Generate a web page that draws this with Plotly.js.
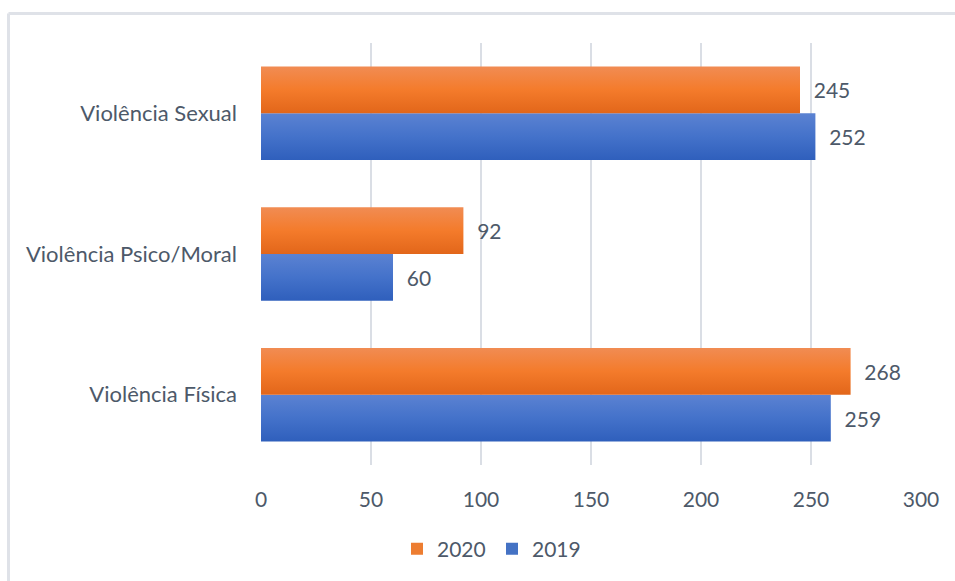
<!DOCTYPE html>
<html>
<head>
<meta charset="utf-8">
<script src="https://cdn.plot.ly/plotly-3.0.1.min.js"></script>
<style>
html,body{margin:0;padding:0;background:#fff;}
#chart{width:955px;height:581px;}
</style>
</head>
<body>
<div id="chart"></div>
<script>
const categories = ["Violência Física", "Violência Psico/Moral", "Violência Sexual"];
const values2019 = [259, 60, 252];
const values2020 = [268, 92, 245];
const xTicks = [0, 50, 100, 150, 200, 250, 300];

const textColor = "#4d5969";
const fontFam = "Lato, 'Open Sans', sans-serif";

const traces = [
  {
    type: "bar", orientation: "h", name: "2019",
    y: categories, x: values2019,
    marker: {color: "#4472C4"},
    text: values2019.map(v => "\u00a0\u00a0" + v),
    textposition: "outside", cliponaxis: false, constraintext: "none",
    textfont: {family: fontFam, size: 21, color: textColor},
    hoverinfo: "x+name"
  },
  {
    type: "bar", orientation: "h", name: "2020",
    y: categories, x: values2020,
    marker: {color: "#ED7D31"},
    text: values2020.map(v => "\u00a0\u00a0" + v),
    textposition: "outside", cliponaxis: false, constraintext: "none",
    textfont: {family: fontFam, size: 21, color: textColor},
    hoverinfo: "x+name"
  }
];

const L = 261, R = 34, T = 43, B = 116;
const pw = 955 - L - R, ph = 581 - T - B;

const layout = {
  width: 955, height: 581,
  margin: {l: L, r: R, t: T, b: B, pad: 0},
  paper_bgcolor: "#ffffff", plot_bgcolor: "#ffffff",
  font: {family: fontFam, size: 21, color: textColor},
  barmode: "group",
  bargap: 0.335, bargroupgap: 0,
  showlegend: true,
  legend: {
    orientation: "h", traceorder: "reversed",
    x: (492 - L) / pw, xanchor: "center",
    y: (465 - 549) / ph, yanchor: "middle",
    font: {family: fontFam, size: 21, color: textColor},
    itemwidth: 30,
    entrywidth: 50, entrywidthmode: "pixels"
  },
  xaxis: {
    range: [0, 300], tickvals: xTicks, ticktext: xTicks.map(String),
    showgrid: true, gridcolor: "#dadee5", gridwidth: 2,
    zeroline: false, showline: false, ticks: "",
    ticklabelstandoff: 20,
    tickfont: {family: fontFam, size: 21, color: textColor},
    fixedrange: true
  },
  yaxis: {
    type: "category", range: [-0.5, 2.5],
    showgrid: false, zeroline: false, showline: false, ticks: "",
    ticklabelstandoff: 23,
    tickfont: {family: fontFam, size: 22, color: textColor},
    fixedrange: true
  },
  shapes: [
    {type: "line", xref: "paper", yref: "paper",
     x0: (8.5 - L) / pw, x1: (960 - L) / pw,
     y0: (465 - 13.5) / ph, y1: (465 - 13.5) / ph,
     line: {color: "#dfe2e8", width: 3}},
    {type: "line", xref: "paper", yref: "paper",
     x0: (8.5 - L) / pw, x1: (8.5 - L) / pw,
     y0: (465 - 13.5) / ph, y1: (465 - 590) / ph,
     line: {color: "#dfe2e8", width: 3}}
  ]
};

Plotly.newPlot("chart", traces, layout, {displayModeBar: false, staticPlot: true}).then(function(gd){
  const svg = gd.querySelector("svg.main-svg");
  const ns = "http://www.w3.org/2000/svg";
  let defs = svg.querySelector("defs");
  if (!defs) { defs = document.createElementNS(ns, "defs"); svg.insertBefore(defs, svg.firstChild); }
  function grad(id, stops) {
    const g = document.createElementNS(ns, "linearGradient");
    g.setAttribute("id", id);
    g.setAttribute("x1", "0"); g.setAttribute("y1", "0");
    g.setAttribute("x2", "0"); g.setAttribute("y2", "1");
    stops.forEach(s => {
      const st = document.createElementNS(ns, "stop");
      st.setAttribute("offset", s[0]);
      st.setAttribute("stop-color", s[1]);
      g.appendChild(st);
    });
    defs.appendChild(g);
  }
  grad("gradBlue", [["0", "#5b82d2"], ["0.5", "#4472ca"], ["1", "#2f5fbc"]]);
  grad("gradOrange", [["0", "#f18c53"], ["0.5", "#f47b2b"], ["1", "#e2661a"]]);
  const traceGroups = gd.querySelectorAll(".barlayer .trace");
  traceGroups.forEach((tg, i) => {
    const id = i === 0 ? "gradBlue" : "gradOrange";
    tg.querySelectorAll("path").forEach(p => { p.style.fill = "url(#" + id + ")"; });
  });
});
</script>
</body>
</html>
